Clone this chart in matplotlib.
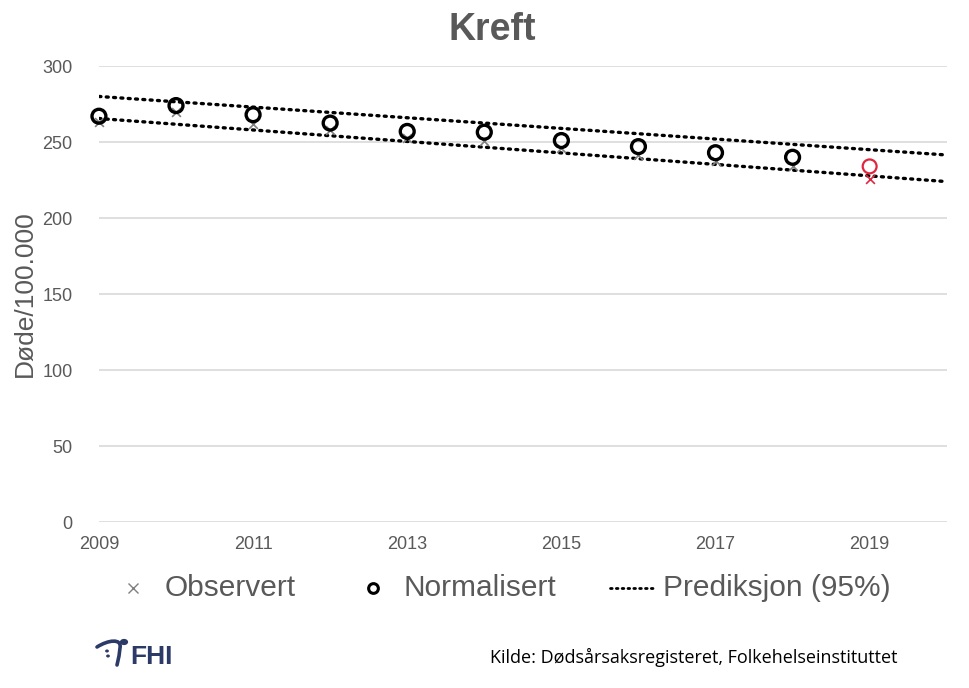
import matplotlib.pyplot as plt
from matplotlib.lines import Line2D
from matplotlib.path import Path
from matplotlib.patches import PathPatch, Circle

years = [2009, 2010, 2011, 2012, 2013, 2014, 2015, 2016, 2017, 2018, 2019]
observert = [263, 270, 262, 258, 253, 251, 246, 241.5, 237.5, 234, 226]
normalisert = [267, 274, 268, 262.5, 257, 256.5, 251, 247, 243, 240, 234]
pred_years = [2009, 2020]
pred_upper = [280, 241.5]
pred_lower = [265.5, 224]
xticks = [2009, 2011, 2013, 2015, 2017, 2019]
yticks = [0, 50, 100, 150, 200, 250, 300]
legend_labels = ['Observert', 'Normalisert', 'Prediksjon (95%)']

plt.rcParams['font.family'] = ['Liberation Sans', 'DejaVu Sans']
grey = '#595959'
red = '#e0263f'
navy = '#2b3a67'
dots = (0, (0.6, 1.6))

W, H = 970, 688
fig = plt.figure(figsize=(9.7, 6.88), dpi=100)
ax = fig.add_axes([0.102, 0.241, 0.874, 0.663])

ax.plot(pred_years, pred_upper, color='black', lw=2.4, linestyle=dots, dash_capstyle='round')
ax.plot(pred_years, pred_lower, color='black', lw=2.4, linestyle=dots, dash_capstyle='round')

ax.scatter(years[:-1], observert[:-1], marker='x', s=40, color='#7f7f7f', lw=1.2,
           zorder=3, clip_on=False)
ax.scatter(years[-1:], observert[-1:], marker='x', s=40, color=red, lw=1.2, zorder=3)
ax.scatter(years[:-1], normalisert[:-1], marker='o', s=100, facecolor='none',
           edgecolor='black', lw=2.4, zorder=4, clip_on=False)
ax.scatter(years[-1:], normalisert[-1:], marker='o', s=100, facecolor='none',
           edgecolor=red, lw=1.6, zorder=4)

ax.set_xlim(2009, 2020)
ax.set_ylim(0, 300)
ax.set_xticks(xticks)
ax.set_yticks(yticks)
ax.grid(axis='y', color='#d9d9d9', lw=1.2)
ax.set_axisbelow(True)
for s in ax.spines.values():
    s.set_visible(False)
ax.tick_params(length=0, labelsize=13, labelcolor=grey, pad=10)
ax.tick_params(axis='y', pad=19)
ax.set_ylabel('Døde/100.000', fontsize=19, color=grey, labelpad=4)

fig.text(0.507, 0.957, 'Kreft', ha='center', va='center', fontsize=27,
         fontweight='bold', color=grey)

# legend, placed by hand
ly = 1 - 588 / H
fig.add_artist(Line2D([133 / W], [ly], marker='x', color='#7f7f7f', ls='none',
                      markersize=7, mew=1.0, transform=fig.transFigure))
fig.add_artist(Line2D([373 / W], [ly], marker='o', color='black', mfc='none', ls='none',
                      markersize=7, mew=2.2, transform=fig.transFigure))
fig.add_artist(Line2D([610 / W, 655 / W], [ly, ly], color='black', lw=2.0, linestyle=(0, (0.6, 1.5)),
                      dash_capstyle='round', transform=fig.transFigure))
for xpix, lab in zip([165, 403, 663], legend_labels):
    fig.text(xpix / W, ly, lab, fontsize=21.5, color=grey, ha='left', va='center')

# FHI logo
logo = Path([(97 / W, 1 - 647 / H), (108 / W, 1 - 640 / H), (122 / W, 1 - 638 / H),
             (120 / W, 1 - 648 / H), (119 / W, 1 - 656 / H), (117 / W, 1 - 665 / H)],
            [Path.MOVETO, Path.CURVE4, Path.CURVE4, Path.CURVE4, Path.LINETO, Path.LINETO])
fig.add_artist(PathPatch(logo, facecolor='none', edgecolor=navy, lw=2.6,
                         capstyle='round', transform=fig.transFigure))
fig.add_artist(Circle((124 / W, 1 - 642 / H), 0.0035, color=navy, transform=fig.transFigure))
fig.add_artist(Circle((107 / W, 1 - 651 / H), 0.0012, color=navy, transform=fig.transFigure))
fig.add_artist(Circle((108 / W, 1 - 656 / H), 0.0012, color=navy, transform=fig.transFigure))
fig.text(130 / W, 1 - 657 / H, 'FHI', fontsize=19, color=navy, ha='left', va='center',
         fontweight='bold')

fig.text(490 / W, 1 - 657 / H, 'Kilde: Dødsårsaksregisteret, Folkehelseinstituttet',
         fontsize=13, color='black', ha='left', va='center', family=['Open Sans', 'DejaVu Sans'])

fig.savefig('out.png', dpi=100)
